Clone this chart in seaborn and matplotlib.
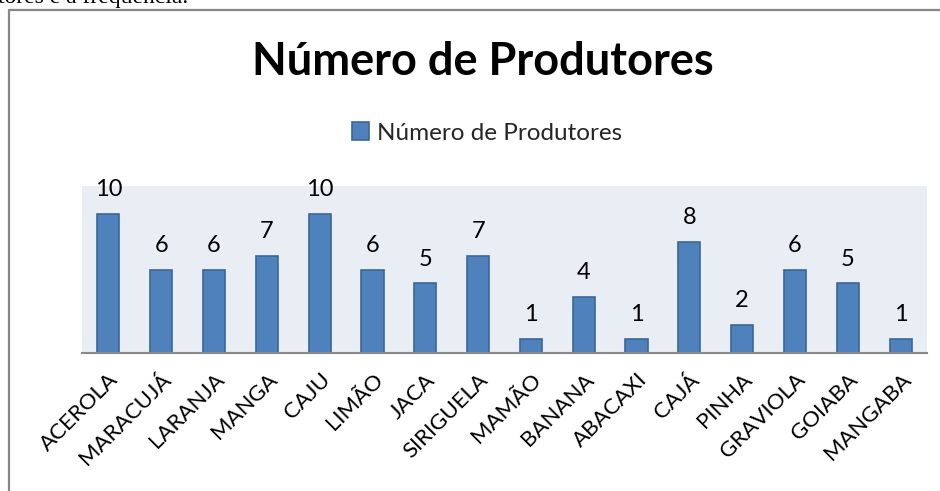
import matplotlib
matplotlib.use("Agg")
import matplotlib.pyplot as plt
import seaborn as sns
import pandas as pd
from matplotlib.patches import Patch
from matplotlib.lines import Line2D

categories = ["ACEROLA", "MARACUJÁ", "LARANJA", "MANGA", "CAJU", "LIMÃO", "JACA",
              "SIRIGUELA", "MAMÃO", "BANANA", "ABACAXI", "CAJÁ", "PINHA",
              "GRAVIOLA", "GOIABA", "MANGABA"]
values = [10, 6, 6, 7, 10, 6, 5, 7, 1, 4, 1, 8, 2, 6, 5, 1]
series_name = "Número de Produtores"
title = "Número de Produtores"
doc_text = "tores e a frequência."

df = pd.DataFrame({"fruta": categories, "n": values})

sns.set_theme(style="white")
plt.rcParams["font.family"] = ["Lato", "DejaVu Sans"]

W, H = 940, 491
fig = plt.figure(figsize=(W / 100, H / 100), dpi=100)
fig.patch.set_facecolor("white")

def fx(px):
    return px / W

def fy(py):
    return 1 - py / H

left, right, top, bottom = 82, 927, 186, 353
ax = fig.add_axes([fx(left), fy(bottom), fx(right - left), (bottom - top) / H])
ax.set_facecolor("#E9EDF4")

bar_color = "#4F81BD"
sns.barplot(data=df, x="fruta", y="n", color=bar_color, width=0.42,
            edgecolor="#3B679A", linewidth=1.2, saturation=1, ax=ax)
ax.set_ylim(0, 12)
ax.set_xlim(-0.5, len(categories) - 0.5)
ax.set_xlabel("")
ax.set_ylabel("")
ax.set_yticks([])
for s in ["top", "right", "left"]:
    ax.spines[s].set_visible(False)
ax.spines["bottom"].set_color("#898989")
ax.spines["bottom"].set_linewidth(1.5)
ax.tick_params(axis="x", length=0, pad=12)
ax.set_xticks(range(len(categories)))
ax.set_xticklabels(categories, rotation=45, ha="right", rotation_mode="anchor",
                   fontsize=16, color="black")

ax.bar_label(ax.containers[0], labels=[str(v) for v in values], padding=10,
             fontsize=17, color="black")

# title
fig.text(fx(483), fy(62), title, ha="center", va="center", fontsize=32.5,
         fontweight="bold", color="black")

# legend
handle = Patch(facecolor=bar_color, edgecolor="#3B679A", linewidth=1.2)
fig.legend([handle], [series_name], loc="center", bbox_to_anchor=(fx(487), fy(133)),
           frameon=False, fontsize=17.5, handlelength=0.7, handleheight=0.7,
           handletextpad=0.3, borderpad=0)

# chart frame (left and top edges visible)
fig.add_artist(Line2D([fx(8.5), fx(8.5)], [fy(10), 0], color="#878787", lw=1.6))
fig.add_artist(Line2D([fx(8.5), 1], [fy(10), fy(10)], color="#878787", lw=1.6))

# cut-off document text at the top
fig.text(fx(-2), fy(3), doc_text, ha="left", va="baseline", fontsize=17,
         family=["Liberation Serif", "DejaVu Serif"], color="black")

fig.savefig("out.png", dpi=100)
